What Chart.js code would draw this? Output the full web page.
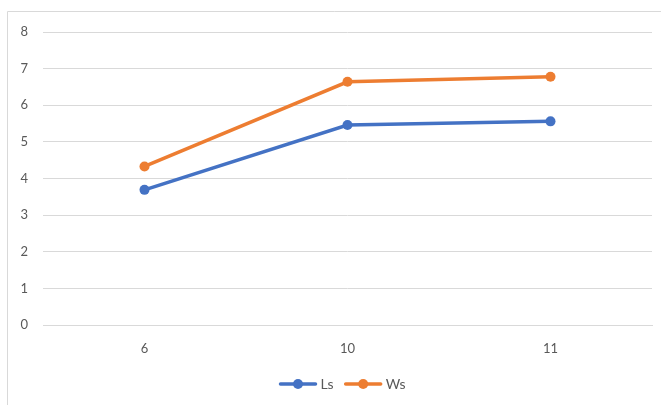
<!DOCTYPE html>
<html>
<head>
<meta charset="utf-8">
<script src="https://cdn.jsdelivr.net/npm/chart.js@4/dist/chart.umd.min.js"></script>
<style>
  html, body { margin: 0; padding: 0; background: #fff; }
  #wrap { width: 661px; height: 405px; position: relative; }
</style>
</head>
<body>
<div id="wrap"><canvas id="c" width="661" height="405"></canvas></div>
<script>
const categories = ['6', '10', '11'];
const lsValues = [3.69, 5.46, 5.56];
const wsValues = [4.33, 6.64, 6.78];
const seriesNames = ['Ls', 'Ws'];
const seriesColors = ['#4472C4', '#ED7D31'];

const FONT = "'Lato', 'Open Sans', sans-serif";

// Outer chart frame (left and top edges)
const framePlugin = {
  id: 'frame',
  beforeDraw(chart) {
    const ctx = chart.ctx;
    ctx.save();
    ctx.strokeStyle = '#D9D9D9';
    ctx.lineWidth = 1;
    ctx.beginPath();
    ctx.moveTo(7.5, 405);
    ctx.lineTo(7.5, 11.5);
    ctx.lineTo(661, 11.5);
    ctx.stroke();
    ctx.restore();
  }
};

// Legend with line + marker swatches, below the axis
const lineLegendPlugin = {
  id: 'lineLegend',
  afterDraw(chart) {
    const ctx = chart.ctx;
    const ds = chart.data.datasets;
    ctx.save();
    ctx.font = '14px ' + FONT;
    ctx.textBaseline = 'middle';
    const sw = 39, gap = 3, itemGap = 10;
    const widths = ds.map(d => sw + gap + ctx.measureText(d.label).width);
    const total = widths.reduce((a, b) => a + b, 0) + itemGap * (ds.length - 1);
    const cx = 342;
    let x = cx - total / 2;
    const y = 384;
    ds.forEach((d, i) => {
      ctx.strokeStyle = d.borderColor;
      ctx.lineWidth = 3.5;
      ctx.lineCap = 'round';
      ctx.beginPath();
      ctx.moveTo(x + 2, y);
      ctx.lineTo(x + sw - 2, y);
      ctx.stroke();
      ctx.fillStyle = d.borderColor;
      ctx.beginPath();
      ctx.arc(x + sw / 2, y, 5, 0, Math.PI * 2);
      ctx.fill();
      ctx.fillStyle = '#595959';
      ctx.textAlign = 'left';
      ctx.fillText(d.label, x + sw + gap, y);
      x += widths[i] + itemGap;
    });
    ctx.restore();
  }
};

new Chart(document.getElementById('c'), {
  type: 'line',
  data: {
    labels: categories,
    datasets: [
      {
        label: seriesNames[0],
        data: lsValues,
        borderColor: seriesColors[0],
        backgroundColor: seriesColors[0],
        borderWidth: 3.5,
        pointRadius: 5,
        pointHoverRadius: 5,
        pointBorderWidth: 0,
        tension: 0
      },
      {
        label: seriesNames[1],
        data: wsValues,
        borderColor: seriesColors[1],
        backgroundColor: seriesColors[1],
        borderWidth: 3.5,
        pointRadius: 5,
        pointHoverRadius: 5,
        pointBorderWidth: 0,
        tension: 0
      }
    ]
  },
  options: {
    responsive: false,
    animation: false,
    layout: { padding: { top: 32, right: 9, bottom: 40, left: 0 } },
    plugins: {
      legend: { display: false },
      tooltip: { enabled: false }
    },
    scales: {
      x: {
        offset: true,
        grid: { display: false, drawTicks: false },
        border: { display: true, color: '#D9D9D9', width: 1 },
        ticks: { color: '#595959', font: { family: FONT, size: 13 }, padding: 16 },
        afterFit(scale) { scale.height = 40; }
      },
      y: {
        min: 0,
        max: 8,
        ticks: { stepSize: 1, color: '#595959', font: { family: FONT, size: 13 }, padding: 15 },
        grid: { color: '#D9D9D9', lineWidth: 1, drawTicks: false },
        border: { display: false },
        afterFit(scale) { scale.width = 43; }
      }
    }
  },
  plugins: [framePlugin, lineLegendPlugin]
});
</script>
</body>
</html>
